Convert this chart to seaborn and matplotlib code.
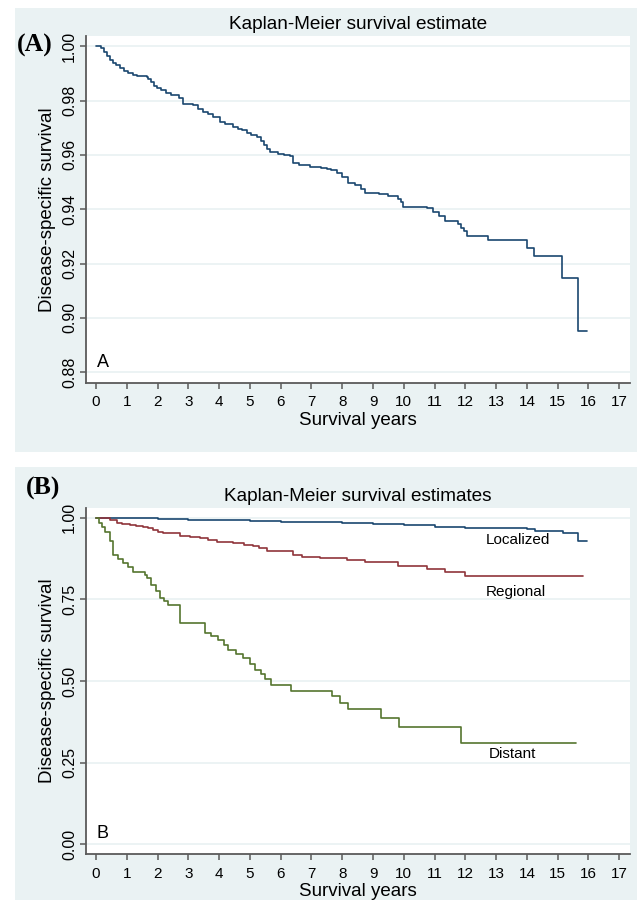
import numpy as np
import pandas as pd
import matplotlib
matplotlib.use("Agg")
import matplotlib.pyplot as plt
from matplotlib.patches import Rectangle
import seaborn as sns

# (A) overall Kaplan-Meier curve (time of step, survival after step)
a_time = [0.00, 0.15, 0.25, 0.35, 0.45, 0.55, 0.65, 0.78, 0.90, 1.05, 1.20, 1.32,
          1.65, 1.70, 1.80, 1.90, 1.97, 2.10, 2.29, 2.45, 2.61, 2.70, 2.84, 3.15,
          3.30, 3.48, 3.65, 3.80, 4.02, 4.20, 4.46, 4.60, 4.75, 4.90, 5.05, 5.23,
          5.35, 5.45, 5.55, 5.65, 5.90, 6.10, 6.30, 6.41, 6.60, 6.95, 7.30, 7.50,
          7.65, 7.82, 8.00, 8.20, 8.40, 8.60, 8.74, 9.20, 9.50, 9.82, 9.90, 9.98,
          10.74, 10.96, 11.15, 11.34, 11.77, 11.85, 11.95, 12.04, 12.74, 13.99,
          14.24, 15.15, 15.65, 15.94]
a_surv = [1.0000, 0.9995, 0.9980, 0.9965, 0.9950, 0.9938, 0.9930, 0.9919, 0.9910,
          0.9903, 0.9895, 0.9890, 0.9888, 0.9880, 0.9868, 0.9855, 0.9845, 0.9838,
          0.9827, 0.9822, 0.9820, 0.9810, 0.9788, 0.9784, 0.9770, 0.9757, 0.9750,
          0.9740, 0.9723, 0.9715, 0.9704, 0.9695, 0.9690, 0.9680, 0.9674, 0.9665,
          0.9650, 0.9635, 0.9620, 0.9612, 0.9605, 0.9600, 0.9596, 0.9570, 0.9562,
          0.9557, 0.9553, 0.9550, 0.9543, 0.9533, 0.9520, 0.9496, 0.9488, 0.9475,
          0.9460, 0.9455, 0.9450, 0.9438, 0.9425, 0.9410, 0.9405, 0.9388, 0.9375,
          0.9355, 0.9345, 0.9330, 0.9318, 0.9303, 0.9285, 0.9259, 0.9226, 0.9147,
          0.8953, 0.8953]

# (B) curves by stage
loc_time = [0, 1, 2, 3, 4, 5, 6, 7, 8, 9, 10, 11, 12, 13, 14, 14.26, 15.16, 15.65, 15.94]
loc_surv = [1.0, 0.998, 0.996, 0.994, 0.992, 0.990, 0.988, 0.986, 0.983, 0.980, 0.977,
            0.973, 0.969, 0.967, 0.965, 0.960, 0.952, 0.929, 0.929]

reg_time = [0, 0.45, 0.67, 0.85, 1.1, 1.3, 1.54, 1.7, 1.86, 2.0, 2.19, 2.73, 3.05, 3.38,
            3.65, 3.92, 4.46, 4.8, 5.11, 5.3, 5.55, 6.41, 6.68, 7.28, 8.14, 8.74,
            9.82, 10.74, 11.34, 12.0, 15.83]
reg_surv = [1.0, 0.994, 0.985, 0.981, 0.978, 0.975, 0.973, 0.967, 0.961, 0.957, 0.953,
            0.945, 0.942, 0.938, 0.933, 0.927, 0.922, 0.917, 0.912, 0.906, 0.899,
            0.886, 0.879, 0.876, 0.869, 0.863, 0.853, 0.843, 0.835, 0.823, 0.823]

dis_time = [0, 0.1, 0.2, 0.3, 0.45, 0.56, 0.7, 0.89, 1.05, 1.21, 1.59, 1.65, 1.8, 1.95,
            2.08, 2.2, 2.35, 2.73, 3.54, 3.75, 3.97, 4.15, 4.3, 4.55, 4.79, 5.0, 5.17,
            5.35, 5.5, 5.7, 6.33, 7.68, 7.93, 8.18, 9.26, 9.84, 11.85, 15.59]
dis_surv = [1.0, 0.985, 0.970, 0.955, 0.930, 0.886, 0.875, 0.862, 0.850, 0.835, 0.825,
            0.815, 0.795, 0.775, 0.754, 0.745, 0.733, 0.679, 0.648, 0.638, 0.626, 0.610,
            0.595, 0.583, 0.570, 0.552, 0.534, 0.520, 0.505, 0.488, 0.470, 0.454, 0.434,
            0.414, 0.388, 0.360, 0.309, 0.309]

stages = ["Localized", "Regional", "Distant"]
stage_colors = {"Localized": "#1a476f", "Regional": "#90353b", "Distant": "#55752f"}

x_ticks = list(range(0, 18))
a_yticks = [0.88, 0.90, 0.92, 0.94, 0.96, 0.98, 1.00]
b_yticks = [0.00, 0.25, 0.50, 0.75, 1.00]

df_a = pd.DataFrame({"time": a_time, "surv": a_surv})
df_b = pd.concat([
    pd.DataFrame({"time": loc_time, "surv": loc_surv, "stage": "Localized"}),
    pd.DataFrame({"time": reg_time, "surv": reg_surv, "stage": "Regional"}),
    pd.DataFrame({"time": dis_time, "surv": dis_surv, "stage": "Distant"}),
], ignore_index=True)

sns.set_style("white")
plt.rcParams['font.family'] = ['Liberation Sans', 'DejaVu Sans']
plt.rcParams['text.color'] = 'black'
plt.rcParams['axes.labelcolor'] = 'black'

bg = "#eaf2f3"
axis_col = "#5a5a5a"

fig = plt.figure(figsize=(6.37, 9.0), dpi=100)
fig.patches.append(Rectangle((15 / 637, 1 - 452 / 900), 622 / 637, 444 / 900,
                             transform=fig.transFigure, facecolor=bg, edgecolor="none", zorder=-5))
fig.patches.append(Rectangle((15 / 637, 0), 622 / 637, 433 / 900,
                             transform=fig.transFigure, facecolor=bg, edgecolor="none", zorder=-5))

ax_a = fig.add_axes([86 / 637, 1 - 383 / 900, 544 / 637, 347 / 900])
ax_b = fig.add_axes([86 / 637, 1 - 854 / 900, 544 / 637, 346 / 900])

sns.lineplot(data=df_a, x="time", y="surv", ax=ax_a, color="#1a476f", linewidth=1.2,
             drawstyle="steps-post", estimator=None)
sns.lineplot(data=df_b, x="time", y="surv", hue="stage", hue_order=stages,
             palette=stage_colors, ax=ax_b, linewidth=1.2, drawstyle="steps-post",
             estimator=None, legend=False)


def style_axis(ax, yticks, ylim, title):
    ax.set_facecolor("white")
    ax.set_xlim(-0.325, 17.35)
    ax.set_ylim(*ylim)
    ax.set_xticks(x_ticks)
    ax.set_yticks(yticks)
    ax.set_yticklabels(["%.2f" % v for v in yticks])
    plt.setp(ax.get_yticklabels(), rotation=90, va="center")
    for y in yticks:
        ax.axhline(y, color=bg, linewidth=1.3, zorder=0.5)
    for side in ["top", "right"]:
        ax.spines[side].set_visible(False)
    for side in ["left", "bottom"]:
        ax.spines[side].set_color(axis_col)
        ax.spines[side].set_linewidth(1.3)
    ax.tick_params(axis="both", direction="out", length=4.5, width=1.1, color=axis_col,
                   labelcolor="black", left=True, bottom=True)
    ax.tick_params(axis="x", pad=4.5, labelsize=11)
    ax.tick_params(axis="y", pad=2, labelsize=11.5)
    ax.set_xlabel("Survival years", fontsize=13.5, labelpad=2)
    ax.set_ylabel("Disease-specific survival", fontsize=13.5, labelpad=4)
    ax.set_title(title, fontsize=13.7, pad=5)


style_axis(ax_a, a_yticks, (0.876, 1.0038), "Kaplan-Meier survival estimate")
style_axis(ax_b, b_yticks, (-0.0297, 1.0297), "Kaplan-Meier survival estimates")

ax_a.text(0.02, 0.8834, "A", fontsize=13, ha="left", va="center")
ax_b.text(0.02, 0.0316, "B", fontsize=13, ha="left", va="center")

ax_b.text(13.71, 0.932, "Localized", fontsize=11, ha="center", va="center")
ax_b.text(13.64, 0.771, "Regional", fontsize=11, ha="center", va="center")
ax_b.text(13.52, 0.277, "Distant", fontsize=11, ha="center", va="center")

fig.text(17 / 637, 1 - 45 / 900, "(A)", fontsize=18.5, fontweight="bold",
         family=["Liberation Serif", "DejaVu Serif"], ha="left", va="center")
fig.text(26 / 637, 1 - 488 / 900, "(B)", fontsize=18.5, fontweight="bold",
         family=["Liberation Serif", "DejaVu Serif"], ha="left", va="center")

fig.savefig("out.png", dpi=100)
